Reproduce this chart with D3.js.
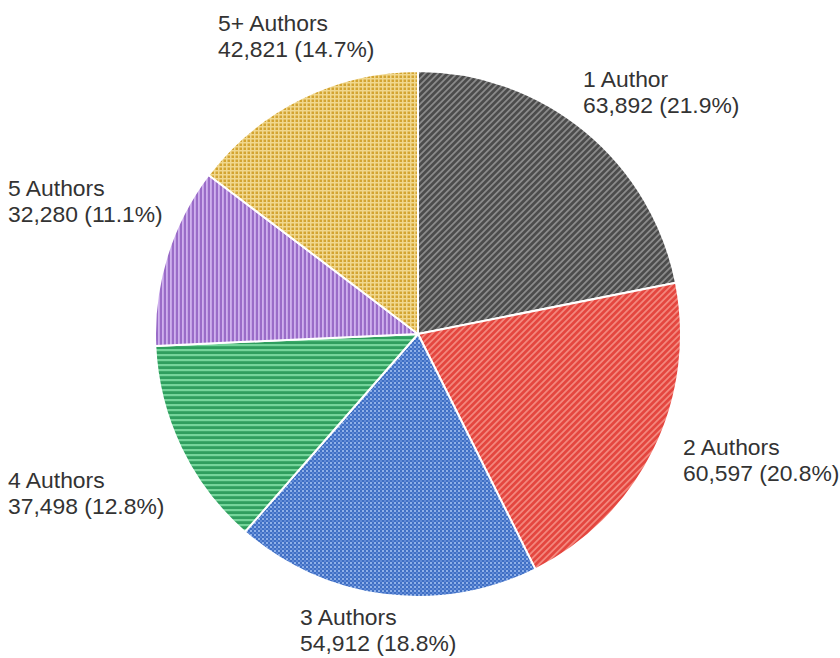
<!DOCTYPE html>
<html>
<head>
<meta charset="utf-8">
<script src="https://cdn.jsdelivr.net/npm/d3@7"></script>
<style>
  html, body { margin: 0; padding: 0; background: #fff; }
  svg { display: block; }
  text { font-family: "Liberation Sans", Arial, sans-serif; fill: #333; }
</style>
</head>
<body>
<svg id="chart" width="840" height="658"></svg>
<script>
// Co-authorship distribution of publications
const categories = ["1 Author", "2 Authors", "3 Authors", "4 Authors", "5 Authors", "5+ Authors"];
const counts = [63892, 60597, 54912, 37498, 32280, 42821];
const percents = ["21.9%", "20.8%", "18.8%", "12.8%", "11.1%", "14.7%"];

const width = 840, height = 658;
const cx = 418, cy = 334, radius = 263;

const svg = d3.select("#chart");
const defs = svg.append("defs");

// Pattern fills, one per slice
const patternSpecs = [
  { id: "p-gray",   base: "#4c4c4c", line: "#8a8a8a", kind: "diag" },
  { id: "p-red",    base: "#e4463f", line: "#f3867c", kind: "diag" },
  { id: "p-blue",   base: "#3f6fc4", line: "#8fb0e8", kind: "dots" },
  { id: "p-green",  base: "#2f9e5e", line: "#74d49a", kind: "hstripe" },
  { id: "p-purple", base: "#9a6cc8", line: "#cfb0ee", kind: "vstripe" },
  { id: "p-yellow", base: "#d3a431", line: "#f1d88e", kind: "grid" }
];

patternSpecs.forEach(s => {
  let p;
  if (s.kind === "diag") {
    p = defs.append("pattern").attr("id", s.id)
      .attr("patternUnits", "userSpaceOnUse").attr("width", 4.5).attr("height", 4.5)
      .attr("patternTransform", "rotate(-45)");
    p.append("rect").attr("width", 4.5).attr("height", 4.5).attr("fill", s.base);
    p.append("rect").attr("width", 4.5).attr("height", 1.8).attr("fill", s.line);
  } else if (s.kind === "dots") {
    p = defs.append("pattern").attr("id", s.id)
      .attr("patternUnits", "userSpaceOnUse").attr("width", 4).attr("height", 4);
    p.append("rect").attr("width", 4).attr("height", 4).attr("fill", s.base);
    p.append("rect").attr("x", 0).attr("y", 0).attr("width", 2).attr("height", 2).attr("fill", s.line);
    p.append("rect").attr("x", 2).attr("y", 2).attr("width", 2).attr("height", 2).attr("fill", "#5f89d6");
  } else if (s.kind === "hstripe") {
    p = defs.append("pattern").attr("id", s.id)
      .attr("patternUnits", "userSpaceOnUse").attr("width", 5).attr("height", 5);
    p.append("rect").attr("width", 5).attr("height", 5).attr("fill", s.base);
    p.append("rect").attr("y", 0).attr("width", 5).attr("height", 2.2).attr("fill", s.line);
  } else if (s.kind === "vstripe") {
    p = defs.append("pattern").attr("id", s.id)
      .attr("patternUnits", "userSpaceOnUse").attr("width", 4).attr("height", 4);
    p.append("rect").attr("width", 4).attr("height", 4).attr("fill", s.base);
    p.append("rect").attr("x", 0).attr("width", 1.8).attr("height", 4).attr("fill", s.line);
  } else {
    p = defs.append("pattern").attr("id", s.id)
      .attr("patternUnits", "userSpaceOnUse").attr("width", 4).attr("height", 4);
    p.append("rect").attr("width", 4).attr("height", 4).attr("fill", s.base);
    p.append("rect").attr("width", 4).attr("height", 1.5).attr("fill", s.line);
    p.append("rect").attr("width", 1.5).attr("height", 4).attr("fill", s.line);
  }
});

const fillScale = d3.scaleOrdinal()
  .domain(categories)
  .range(patternSpecs.map(s => `url(#${s.id})`));

const pie = d3.pie().sort(null).value((d, i) => counts[i]);
const arcs = pie(categories);
const arc = d3.arc().innerRadius(0).outerRadius(radius);

const g = svg.append("g").attr("transform", `translate(${cx},${cy})`);

g.selectAll("path.slice")
  .data(arcs)
  .join("path")
  .attr("class", "slice")
  .attr("d", arc)
  .attr("fill", d => fillScale(d.data))
  .attr("stroke", "#fff")
  .attr("stroke-width", 2)
  .attr("stroke-linejoin", "round");

// Two-line labels (name, then count and share) placed beside each slice
const fmt = d3.format(",");
const labelAnchors = [[583, 87], [683, 455], [300, 625], [8, 488], [8, 196], [218, 31]];

const labels = svg.selectAll("g.label")
  .data(arcs)
  .join("g")
  .attr("class", "label")
  .attr("transform", (d, i) => `translate(${labelAnchors[i][0]},${labelAnchors[i][1]})`);

labels.append("text")
  .attr("font-size", 22)
  .attr("transform", "scale(1.04,1)")
  .text(d => d.data);
labels.append("text")
  .attr("y", 26)
  .attr("font-size", 22)
  .attr("transform", "scale(1.04,1)")
  .text((d, i) => `${fmt(counts[i])} (${percents[i]})`);
</script>
</body>
</html>
